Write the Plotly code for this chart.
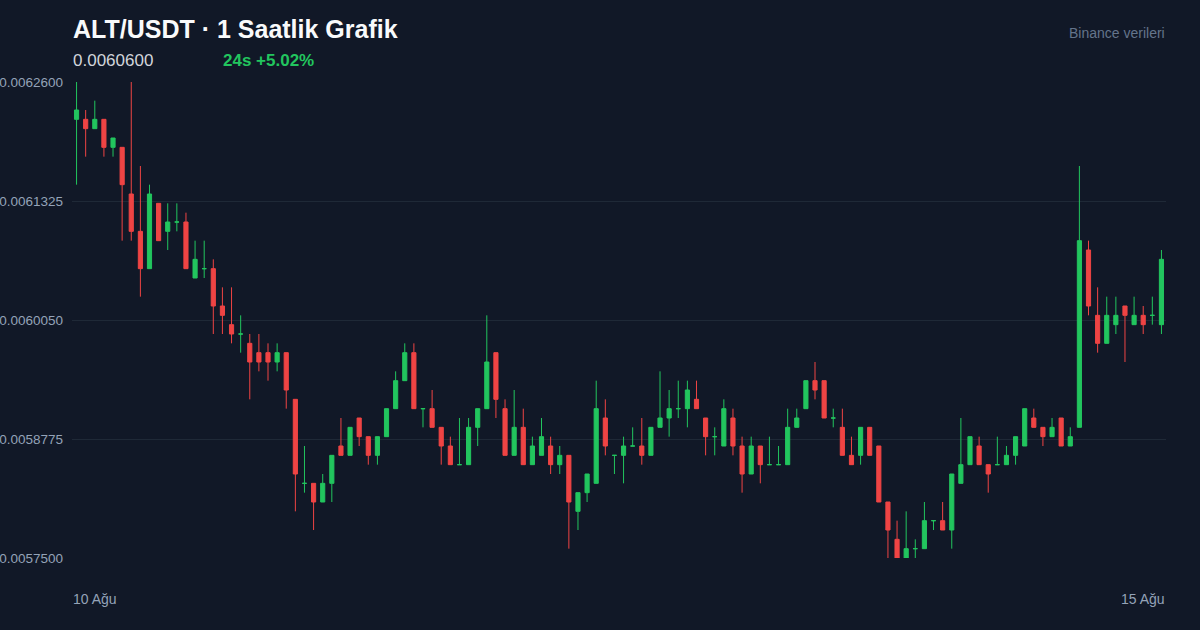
import plotly.graph_objects as go
import pandas as pd

# OHLC values (price, USDT), hourly candles starting 10 Aug
opens = [0.00622,0.00622,0.00621,0.00622,0.00619,0.00619,0.00614,0.00610,0.00606,0.00613,
         0.00610,0.00611,0.00611,0.00605,0.00606,0.00606,0.00602,0.00600,0.00599,0.00598,
         0.00597,0.00597,0.00596,0.00597,0.00592,0.00583,0.00583,0.00581,0.00583,0.00587,
         0.00586,0.00590,0.00588,0.00586,0.00588,0.00591,0.00594,0.00597,0.00591,0.00591,
         0.00589,0.00587,0.00585,0.00585,0.00589,0.00591,0.00597,0.00591,0.00586,0.00589,
         0.00585,0.00586,0.00587,0.00585,0.00586,0.00580,0.00582,0.00583,0.00590,0.00586,
         0.00586,0.00587,0.00587,0.00586,0.00589,0.00590,0.00591,0.00591,0.00592,0.00590,
         0.00588,0.00587,0.00590,0.00587,0.00584,0.00587,0.00585,0.00585,0.00585,0.00589,
         0.00591,0.00594,0.00594,0.00590,0.00589,0.00586,0.00586,0.00589,0.00587,0.00581,
         0.00577,0.00575,0.00576,0.00576,0.00579,0.00579,0.00578,0.00583,0.00585,0.00587,
         0.00585,0.00585,0.00585,0.00586,0.00587,0.00590,0.00589,0.00588,0.00590,0.00587,
         0.00589,0.00608,0.00601,0.00598,0.00600,0.00602,0.00600,0.00601,0.00601,0.00600]
highs = [0.00626,0.00623,0.00624,0.00622,0.00620,0.00619,0.00626,0.00617,0.00615,0.00613,
         0.00613,0.00613,0.00612,0.00609,0.00609,0.00607,0.00604,0.00604,0.00601,0.00599,
         0.00599,0.00598,0.00598,0.00597,0.00592,0.00587,0.00583,0.00584,0.00586,0.00590,
         0.00589,0.00590,0.00588,0.00588,0.00591,0.00595,0.00598,0.00598,0.00591,0.00593,
         0.00589,0.00588,0.00590,0.00590,0.00591,0.00601,0.00597,0.00592,0.00593,0.00591,
         0.00588,0.00590,0.00588,0.00587,0.00586,0.00582,0.00584,0.00594,0.00592,0.00586,
         0.00588,0.00589,0.00590,0.00589,0.00595,0.00593,0.00594,0.00594,0.00594,0.00590,
         0.00589,0.00592,0.00591,0.00588,0.00588,0.00587,0.00588,0.00587,0.00591,0.00591,
         0.00594,0.00596,0.00594,0.00591,0.00591,0.00588,0.00589,0.00589,0.00587,0.00581,
         0.00579,0.00580,0.00577,0.00581,0.00579,0.00581,0.00584,0.00590,0.00588,0.00588,
         0.00585,0.00588,0.00587,0.00588,0.00591,0.00591,0.00589,0.00590,0.00590,0.00589,
         0.00617,0.00609,0.00604,0.00603,0.00603,0.00602,0.00603,0.00602,0.00603,0.00608]
lows = [0.00615,0.00618,0.00621,0.00618,0.00618,0.00609,0.00609,0.00603,0.00606,0.00609,
        0.00608,0.00610,0.00606,0.00605,0.00605,0.00599,0.00599,0.00598,0.00597,0.00592,
        0.00595,0.00594,0.00595,0.00591,0.00580,0.00582,0.00578,0.00581,0.00581,0.00586,
        0.00586,0.00587,0.00585,0.00585,0.00588,0.00591,0.00594,0.00591,0.00589,0.00589,
        0.00585,0.00585,0.00585,0.00585,0.00587,0.00591,0.00590,0.00586,0.00586,0.00585,
        0.00585,0.00586,0.00584,0.00584,0.00576,0.00578,0.00581,0.00583,0.00586,0.00584,
        0.00583,0.00587,0.00585,0.00586,0.00589,0.00588,0.00590,0.00589,0.00591,0.00586,
        0.00586,0.00587,0.00586,0.00582,0.00584,0.00583,0.00585,0.00585,0.00585,0.00589,
        0.00591,0.00592,0.00590,0.00589,0.00586,0.00585,0.00585,0.00586,0.00581,0.00575,
        0.00575,0.00575,0.00575,0.00576,0.00578,0.00578,0.00576,0.00583,0.00585,0.00585,
        0.00582,0.00585,0.00585,0.00585,0.00587,0.00589,0.00587,0.00588,0.00587,0.00587,
        0.00589,0.00601,0.00597,0.00598,0.00599,0.00596,0.00600,0.00599,0.00600,0.00599]
closes = [0.00623,0.00621,0.00622,0.00619,0.00620,0.00615,0.00610,0.00606,0.00614,0.00609,
          0.00611,0.00611,0.00606,0.00607,0.00606,0.00602,0.00601,0.00599,0.00599,0.00596,
          0.00596,0.00596,0.00597,0.00593,0.00584,0.00583,0.00581,0.00583,0.00586,0.00586,
          0.00589,0.00588,0.00586,0.00588,0.00591,0.00594,0.00597,0.00591,0.00591,0.00589,
          0.00587,0.00585,0.00585,0.00589,0.00591,0.00596,0.00592,0.00586,0.00589,0.00585,
          0.00587,0.00588,0.00585,0.00586,0.00581,0.00582,0.00584,0.00591,0.00587,0.00586,
          0.00587,0.00587,0.00586,0.00589,0.00590,0.00591,0.00591,0.00593,0.00591,0.00588,
          0.00588,0.00591,0.00587,0.00584,0.00587,0.00585,0.00585,0.00585,0.00589,0.00590,
          0.00594,0.00593,0.00590,0.00590,0.00586,0.00585,0.00589,0.00586,0.00581,0.00578,
          0.00575,0.00576,0.00576,0.00579,0.00579,0.00578,0.00584,0.00585,0.00588,0.00585,
          0.00584,0.00585,0.00586,0.00588,0.00591,0.00589,0.00588,0.00589,0.00587,0.00588,
          0.00609,0.00602,0.00598,0.00601,0.00601,0.00601,0.00601,0.00600,0.00601,0.00607]

times = pd.date_range("2024-08-10 00:00", periods=len(opens), freq="h")

y_ticks = [0.00575, 0.0058775, 0.006005, 0.0061325, 0.00626]
y_ticktext = [f"{v:.7f}" for v in y_ticks]
x_start_label = "10 Ağu"
x_end_label = "15 Ağu"
title_text = "ALT/USDT · 1 Saatlik Grafik"
last_price_text = "0.0060600"
change_text = "24s +5.02%"
source_text = "Binance verileri"

BG = "#111827"
GREEN = "#22c55e"
RED = "#ef4444"
GRID = "#1f2937"
TICK = "#94a3b8"
FONT = "Liberation Sans, Arial, sans-serif"

up_idx = [i for i in range(len(opens)) if closes[i] >= opens[i]]
dn_idx = [i for i in range(len(opens)) if closes[i] < opens[i]]

def trace(idx, color):
    return go.Candlestick(
        x=[times[i] for i in idx],
        open=[opens[i] for i in idx], high=[highs[i] for i in idx],
        low=[lows[i] for i in idx], close=[closes[i] for i in idx],
        increasing=dict(line=dict(color=color, width=1), fillcolor=color),
        decreasing=dict(line=dict(color=color, width=1), fillcolor=color),
        whiskerwidth=0, showlegend=False, hoverinfo="skip",
    )

fig = go.Figure([trace(up_idx, GREEN), trace(dn_idx, RED)])

half = pd.Timedelta(minutes=30)
fig.update_layout(
    width=1200, height=630,
    paper_bgcolor=BG, plot_bgcolor=BG,
    margin=dict(l=72, r=34, t=82, b=72, autoexpand=False),
    font=dict(family=FONT, color=TICK),
    boxgap=0.35, boxmode="overlay",
    showlegend=False,
    xaxis=dict(range=[times[0] - half, times[-1] + half], showgrid=False,
               showticklabels=False, zeroline=False, showline=False,
               rangeslider=dict(visible=False), fixedrange=True, automargin=False),
    yaxis=dict(range=[min(lows), max(highs)], tickvals=y_ticks, ticktext=y_ticktext,
               showgrid=True, gridcolor=GRID, gridwidth=1, zeroline=False,
               showline=False, ticks="", ticklabelstandoff=8, automargin=False,
               tickfont=dict(size=13.5, color=TICK), fixedrange=True),
)

def py(ypx):
    return (558 - ypx) / 476

anns = [
    dict(text=f"<b>{title_text}</b>", x=0, y=py(29.5), xanchor="left",
         font=dict(size=25, color="#f9fafb")),
    dict(text=last_price_text, x=0, y=py(60.5), xanchor="left",
         font=dict(size=17, color="#d1d5db")),
    dict(text=f"<b>{change_text}</b>", x=(222 - 72) / 1094, y=py(60.5), xanchor="left",
         font=dict(size=17, color=GREEN)),
    dict(text=source_text, x=1, y=py(33), xanchor="right",
         font=dict(size=14, color="#64748b")),
    dict(text=x_start_label, x=0, y=py(599), xanchor="left",
         font=dict(size=14, color=TICK)),
    dict(text=x_end_label, x=1, y=py(599), xanchor="right",
         font=dict(size=14, color=TICK)),
]
for a in anns:
    a.update(xref="paper", yref="paper", yanchor="middle", showarrow=False,
             borderpad=0)
fig.update_layout(annotations=anns)

fig.write_html(
    "out.html",
    config={"displayModeBar": False},
    post_script="document.body.style.margin='0';document.body.style.overflow='hidden';",
)
